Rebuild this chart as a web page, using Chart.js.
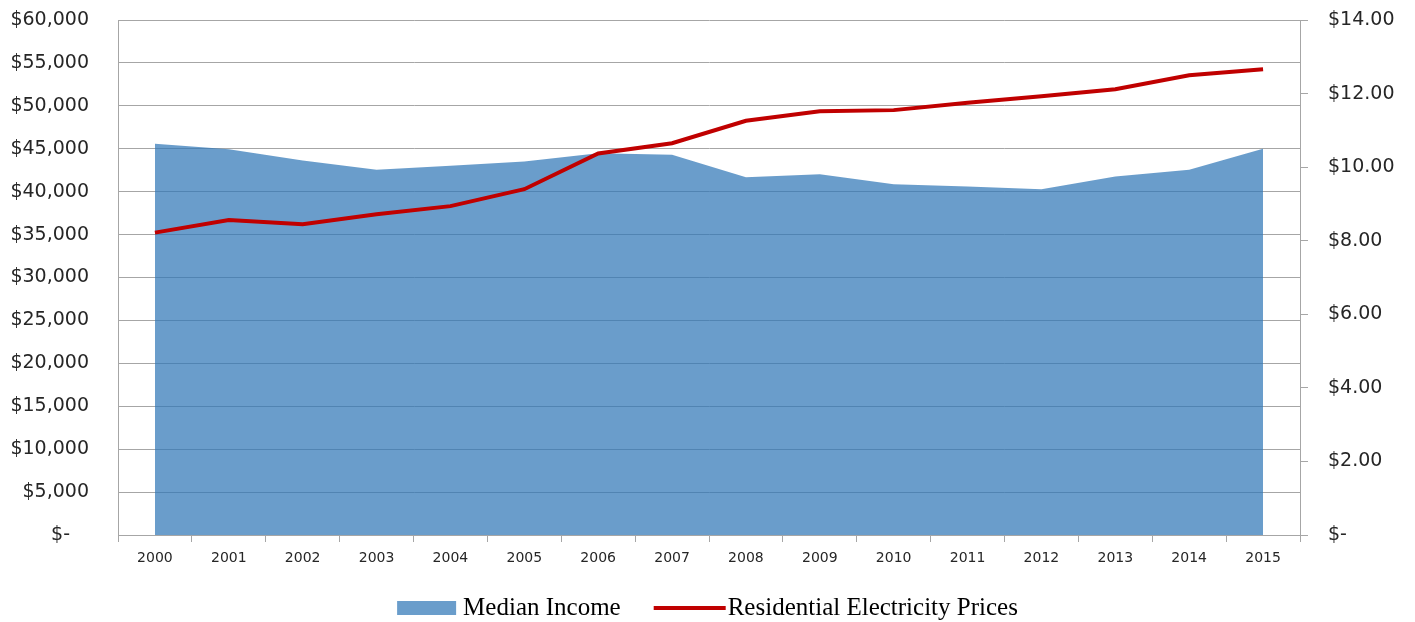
<!DOCTYPE html>
<html>
<head>
<meta charset="utf-8">
<title>Median Income vs Residential Electricity Prices</title>
<script src="https://cdn.jsdelivr.net/npm/chart.js@4.4.1/dist/chart.umd.min.js"></script>
<style>
  html, body { margin: 0; padding: 0; background: #ffffff; }
  #wrap { width: 1415px; height: 622px; }
</style>
</head>
<body>
<div id="wrap"><canvas id="chart" width="1415" height="622"></canvas></div>
<script>
// Years on the category axis
const years = ['2000','2001','2002','2003','2004','2005','2006','2007',
               '2008','2009','2010','2011','2012','2013','2014','2015'];

// Median household income (USD)
const medianIncome = [45570, 44950, 43620, 42540, 43010, 43510, 44490, 44290,
                      41690, 42040, 40870, 40600, 40290, 41760, 42540, 44990];

// Residential electricity price (cents per kWh, shown as $)
const electricityPrices = [8.22, 8.56, 8.45, 8.72, 8.94, 9.40, 10.37, 10.65,
                           11.26, 11.52, 11.55, 11.75, 11.93, 12.12, 12.50, 12.66];

const incomeLabel = 'Median Income';
const priceLabel = 'Residential Electricity Prices';

const gridGray = '#a6a6a6';
const areaFill = 'rgba(48,119,183,0.72)';
const areaSwatch = '#6a9dcb';
const lineRed = '#c00000';

function fmtIncome(v) {
  if (v === 0) return '$-\u2002\u2002';
  return '$' + v.toLocaleString('en-US');
}
function fmtPrice(v) {
  if (v === 0) return '$-';
  return '$' + v.toFixed(2);
}

// Keep the plot top fixed regardless of tick label padding
function fitVertical(width) {
  return (scale) => {
    scale.width = width;
    scale.paddingTop = 20;
    scale.paddingBottom = 0;
  };
}

// Legend drawn below the axis, centred on the canvas
const bottomLegend = {
  id: 'bottomLegend',
  afterDraw(chart) {
    const ctx = chart.ctx;
    ctx.save();
    ctx.font = '25px "Liberation Serif", "Times New Roman", serif';
    ctx.textBaseline = 'middle';
    ctx.fillStyle = '#000000';
    const w1 = ctx.measureText(incomeLabel).width;
    const w2 = ctx.measureText(priceLabel).width;
    const box = 59, gap1 = 7, between = 33, lineLen = 72, gap2 = 2;
    const total = box + gap1 + w1 + between + lineLen + gap2 + w2;
    let x = chart.width / 2 - total / 2;
    const y = 608;
    ctx.fillStyle = areaSwatch;
    ctx.fillRect(x, y - 7, box, 14);
    x += box + gap1;
    ctx.fillStyle = '#000000';
    ctx.fillText(incomeLabel, x, y);
    x += w1 + between;
    ctx.strokeStyle = lineRed;
    ctx.lineWidth = 4;
    ctx.beginPath();
    ctx.moveTo(x, y);
    ctx.lineTo(x + lineLen, y);
    ctx.stroke();
    x += lineLen + gap2;
    ctx.fillText(priceLabel, x, y);
    ctx.restore();
  }
};

new Chart(document.getElementById('chart'), {
  type: 'line',
  data: {
    labels: years,
    datasets: [
      {
        label: priceLabel,
        data: electricityPrices,
        yAxisID: 'y1',
        borderColor: lineRed,
        borderWidth: 4,
        pointRadius: 0,
        tension: 0,
        fill: false,
        order: 0
      },
      {
        label: incomeLabel,
        data: medianIncome,
        yAxisID: 'y',
        backgroundColor: areaFill,
        borderWidth: 0,
        borderColor: 'rgba(0,0,0,0)',
        pointRadius: 0,
        tension: 0,
        fill: 'origin',
        order: 1
      }
    ]
  },
  options: {
    responsive: false,
    animation: false,
    layout: { padding: 0 },
    plugins: {
      legend: { display: false },
      tooltip: { enabled: false }
    },
    scales: {
      x: {
        offset: true,
        grid: {
          offset: true,
          drawOnChartArea: false,
          drawTicks: true,
          tickLength: 7,
          color: gridGray
        },
        border: { color: gridGray, width: 1 },
        ticks: {
          color: '#262626',
          font: { family: '"DejaVu Sans", sans-serif', size: 14 },
          padding: 8,
          maxRotation: 0,
          autoSkip: false
        },
        afterFit(scale) { scale.height = 87; }
      },
      y: {
        position: 'left',
        min: 0,
        max: 60000,
        ticks: {
          stepSize: 5000,
          color: '#262626',
          font: { family: '"DejaVu Sans", sans-serif', size: 19 },
          padding: 29,
          callback: (v) => fmtIncome(v)
        },
        grid: { color: gridGray, drawTicks: false, lineWidth: 1 },
        border: { color: gridGray, width: 1 },
        afterFit: fitVertical(118)
      },
      y1: {
        position: 'right',
        min: 0,
        max: 14,
        ticks: {
          stepSize: 2,
          color: '#262626',
          font: { family: '"DejaVu Sans", sans-serif', size: 19 },
          padding: 20,
          callback: (v) => fmtPrice(v)
        },
        grid: { drawOnChartArea: false, drawTicks: true, tickLength: 8, color: gridGray },
        border: { color: gridGray, width: 1 },
        afterFit: fitVertical(115)
      }
    }
  },
  plugins: [bottomLegend]
});
</script>
</body>
</html>
